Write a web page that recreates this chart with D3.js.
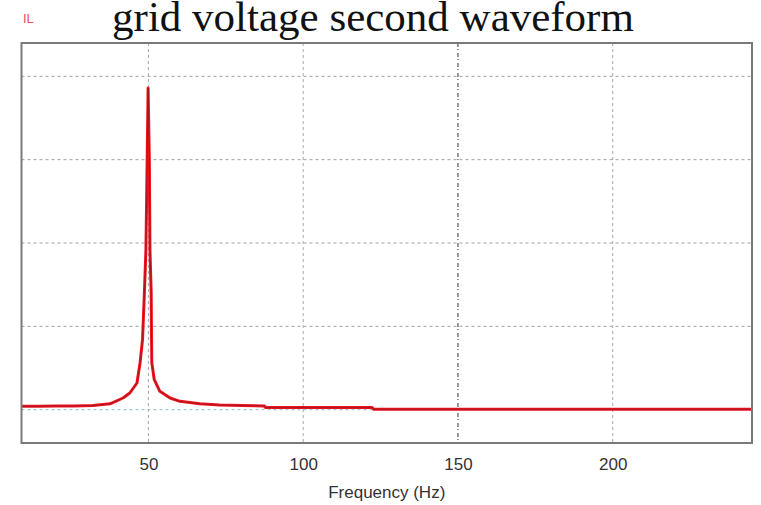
<!DOCTYPE html>
<html>
<head>
<meta charset="utf-8">
<script src="https://cdn.jsdelivr.net/npm/d3@7/dist/d3.min.js"></script>
<style>
  html, body { margin: 0; padding: 0; background: #fff; }
  svg { display: block; }
</style>
</head>
<body>
<svg id="chart" width="761" height="505"></svg>
<script>
// Spectrum of the grid voltage: frequency (Hz) and magnitude (grid units)
const freqHz = [9, 15, 20, 26, 32.1, 37.6, 41.8, 44.0, 46.3, 47.3, 48.1, 48.6, 49.2, 49.6, 49.9,
                50.3, 50.5, 50.9, 51.0, 51.1, 51.9, 53.7, 57.0, 60.2, 66.6, 73, 80, 87.5,
                87.8, 100, 110, 122.3, 122.7, 150, 180, 210, 245];
const magnitude = [0.04, 0.042, 0.045, 0.045, 0.05, 0.07, 0.14, 0.2, 0.32, 0.56, 0.84, 1.3, 1.92, 3.0, 3.86,
                   3.0, 1.92, 1.4, 0.9, 0.56, 0.36, 0.22, 0.14, 0.1, 0.07, 0.055, 0.05, 0.045,
                   0.025, 0.025, 0.025, 0.025, 0.006, 0.006, 0.006, 0.006, 0.006];

const xTicks = [50, 100, 150, 200];
const xTickLabels = ["50", "100", "150", "200"];
const yGrid = [0, 1, 2, 3, 4];

const titleText = "grid voltage second waveform";
const xAxisTitle = "Frequency (Hz)";
const signalName = "IL";

const svg = d3.select("#chart");
const plot = { left: 21.5, right: 752, top: 43, bottom: 443 };

const x = d3.scaleLinear().domain([9, 245]).range([plot.left, plot.right]);
const y = d3.scaleLinear().domain([-0.4, 4.4]).range([plot.bottom, plot.top]);

// title, running off the top edge of the page
svg.append("text")
  .attr("x", 373).attr("y", 31)
  .attr("text-anchor", "middle")
  .attr("font-family", "'Liberation Serif', 'Times New Roman', serif")
  .attr("font-size", 43)
  .attr("fill", "#111")
  .text(titleText);

// trace name
svg.append("text")
  .attr("x", 23).attr("y", 23)
  .attr("font-family", "'Liberation Sans', Arial, sans-serif")
  .attr("font-size", 13)
  .attr("fill", "#f0505a")
  .text(signalName);

// horizontal grid
svg.append("g").selectAll("line").data(yGrid).join("line")
  .attr("x1", plot.left).attr("x2", plot.right)
  .attr("y1", d => y(d)).attr("y2", d => y(d))
  .attr("stroke", d => d === 0 ? "#8fc4c8" : "#a0a0a0")
  .attr("stroke-width", 1)
  .attr("stroke-dasharray", "3,3");

// vertical grid
svg.append("g").selectAll("line").data(xTicks).join("line")
  .attr("x1", d => x(d)).attr("x2", d => x(d))
  .attr("y1", plot.top).attr("y2", plot.bottom)
  .attr("stroke", d => d === 150 ? "#6e6e6e" : "#a8a8a8")
  .attr("stroke-width", d => d === 150 ? 1.4 : 1)
  .attr("stroke-dasharray", d => d === 150 ? "4,2,1,3" : "3,3");

// x axis labels
const xAxis = d3.axisBottom(x).tickValues(xTicks)
  .tickFormat((d, i) => xTickLabels[i]).tickSize(0).tickPadding(15);
const gx = svg.append("g").attr("transform", `translate(0,${plot.bottom})`).call(xAxis);
gx.select(".domain").remove();
gx.selectAll("text")
  .attr("font-family", "'Liberation Sans', Arial, sans-serif")
  .attr("font-size", 17)
  .attr("fill", "#333");

svg.append("text")
  .attr("x", (plot.left + plot.right) / 2).attr("y", 498)
  .attr("text-anchor", "middle")
  .attr("font-family", "'Liberation Sans', Arial, sans-serif")
  .attr("font-size", 17)
  .attr("fill", "#333")
  .text(xAxisTitle);

// spectrum trace: bright red body with a dark core
const line = d3.line().x((d, i) => x(freqHz[i])).y(d => y(d));
svg.append("path").datum(magnitude)
  .attr("d", line)
  .attr("fill", "none")
  .attr("stroke", "#f0141e")
  .attr("stroke-width", 3)
  .attr("stroke-linejoin", "round");
svg.append("path").datum(magnitude)
  .attr("d", line)
  .attr("fill", "none")
  .attr("stroke", "#8a1422")
  .attr("stroke-width", 1)
  .attr("stroke-opacity", 0.7)
  .attr("stroke-linejoin", "round");

// plot frame
svg.append("rect")
  .attr("x", plot.left).attr("y", plot.top)
  .attr("width", plot.right - plot.left).attr("height", plot.bottom - plot.top)
  .attr("fill", "none")
  .attr("stroke", "#7a7a7a")
  .attr("stroke-width", 2);
</script>
</body>
</html>
